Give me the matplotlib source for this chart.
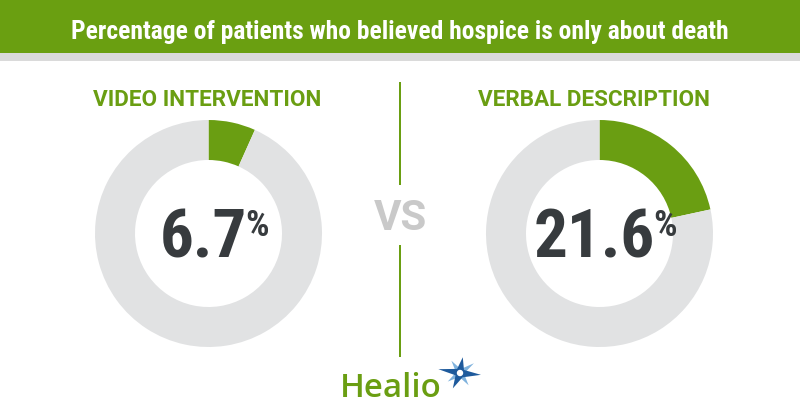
import numpy as np
import matplotlib
matplotlib.use('Agg')
import matplotlib.pyplot as plt
from matplotlib import font_manager
from matplotlib.patches import Rectangle, Polygon, Circle

# ---- data ----
title = "Percentage of patients who believed hospice is only about death"
groups = ["VIDEO INTERVENTION", "VERBAL DESCRIPTION"]
percentages = [6.7, 21.6]
versus = "VS"
brand = "Healio"

names = {f.name for f in font_manager.fontManager.ttflist}


def pick(*cands):
    for c in cands:
        if c in names:
            return c
    return 'DejaVu Sans'


COND = pick('Roboto Condensed', 'Liberation Sans Narrow', 'Roboto')
BOLD = pick('Roboto', 'DejaVu Sans')
LOGO = pick('Open Sans', 'Lato', 'DejaVu Sans')

GREEN = '#6a9e12'
HEADER = '#6a9f11'
BAND = '#dadada'
GRAY = '#e1e2e3'
DARK = '#373b3e'
VSGRAY = '#c9c9c9'

PX = 0.72  # px -> pt at dpi 100

fig = plt.figure(figsize=(8, 4.2), dpi=100)
fig.patch.set_facecolor('white')

bg = fig.add_axes([0, 0, 1, 1], zorder=5)
bg.set_xlim(0, 800)
bg.set_ylim(420, 0)
bg.axis('off')
bg.patch.set_alpha(0)

# header
bg.add_patch(Rectangle((0, 0), 800, 53, color=HEADER, lw=0))
bg.add_patch(Rectangle((0, 53), 800, 8, color=BAND, lw=0))
bg.text(400, 38.5, title, color='white', fontsize=25.5 * PX, fontweight='bold',
        family=COND, ha='center', va='baseline')

# donuts
centers = [(208.5, 233.5), (599.5, 233.5)]
R = 113.5
RIN = 73.5
title_x = [207, 594]
for (cx, cy), p, g, tx in zip(centers, percentages, groups, title_x):
    ax = fig.add_axes([(cx - R) / 800, (420 - cy - R) / 420, 2 * R / 800, 2 * R / 420])
    ax.pie([p, 100 - p], colors=[GREEN, GRAY], startangle=90, counterclock=False,
           radius=1, wedgeprops=dict(width=(R - RIN) / R, linewidth=0))
    ax.set_xlim(-1, 1)
    ax.set_ylim(-1, 1)
    ax.set_aspect('auto')
    ax.axis('off')
    bg.text(tx, 106, g, color=GREEN, fontsize=22.5 * PX, fontweight='bold',
            family=BOLD, ha='center', va='baseline')

fig.canvas.draw()
renderer = fig.canvas.get_renderer()
for (cx, cy), p in zip(centers, percentages):
    t1 = bg.text(0, 258, f"{p:g}", color=DARK, fontsize=67 * PX, fontweight='bold',
                 family=COND, ha='left', va='baseline')
    t2 = bg.text(0, 236, '%', color=DARK, fontsize=37 * PX, fontweight='bold',
                 family=COND, ha='left', va='baseline')
    w1 = t1.get_window_extent(renderer).width
    w2 = t2.get_window_extent(renderer).width
    gap = -2
    start = cx + 6 - (w1 + gap + w2) / 2
    t1.set_x(start)
    t2.set_x(start + w1 + gap)

# VS divider
bg.plot([400, 400], [82, 185], color=GREEN, lw=2 * PX, solid_capstyle='butt')
bg.plot([400, 400], [245, 357], color=GREEN, lw=2 * PX, solid_capstyle='butt')
bg.text(400, 230, versus, color=VSGRAY, fontsize=42 * PX, fontweight='bold',
        family=BOLD, ha='center', va='baseline')

# logo
bg.text(340, 397, brand, color=GREEN, fontsize=33 * PX, fontweight='semibold',
        family=LOGO, ha='left', va='baseline')


def star(cx, cy, tips, rin, color, z):
    pts = []
    n = len(tips)
    for i, (a, r) in enumerate(tips):
        a_next = tips[(i + 1) % n][0]
        if a_next < a:
            a_next += 360
        a2 = (a + a_next) / 2
        pts.append((cx + r * np.cos(np.radians(a)), cy - r * np.sin(np.radians(a))))
        pts.append((cx + rin * np.cos(np.radians(a2)), cy - rin * np.sin(np.radians(a2))))
    bg.add_patch(Polygon(pts, closed=True, color=color, lw=0, zorder=z))


scx, scy = 460, 373
star(scx, scy, [(35, 17), (125, 15), (215, 15), (305, 15)], 4, '#7fb2dd', 3)
star(scx, scy, [(-5, 21), (80, 16), (170, 22), (245, 17)], 5, '#1e5a9c', 4)
bg.add_patch(Circle((scx, scy), 2.5, color='white', zorder=5))

fig.savefig('out.png', dpi=100, facecolor='white')
